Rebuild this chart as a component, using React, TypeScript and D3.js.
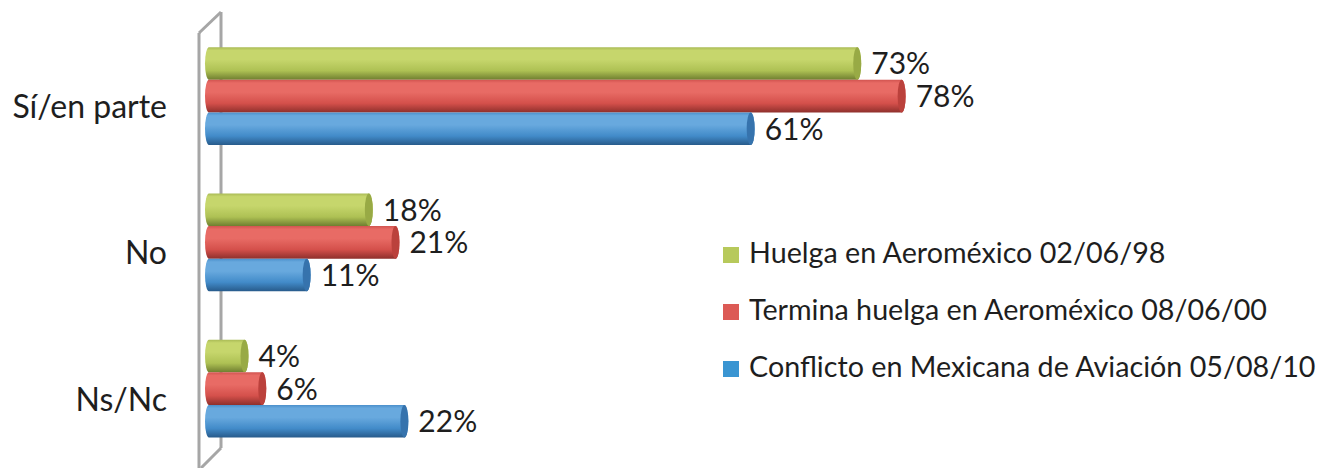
import React from "react";
import * as d3 from "d3";

const categories = ["Sí/en parte", "No", "Ns/Nc"];
const seriesNames = [
  "Huelga en Aeroméxico 02/06/98",
  "Termina huelga en Aeroméxico 08/06/00",
  "Conflicto en Mexicana de Aviación 05/08/10",
];
const huelga98 = [73, 18, 4];
const termina00 = [78, 21, 6];
const conflicto10 = [61, 11, 22];
const seriesValues = [huelga98, termina00, conflicto10];

const W = 1317;
const H = 468;
const FONT = "Lato, 'DejaVu Sans', sans-serif";
const TEXT = "#1e1e1e";

const palettes = [
  { edge: "#a9ba55", hi: "#c6d66c", base: "#aec154", dark: "#6f7e30", cap: "#98aa45", legend: "#b7c95b" },
  { edge: "#d25450", hi: "#e86b65", base: "#d4504b", dark: "#8f302c", cap: "#bb413c", legend: "#dc5a55" },
  { edge: "#4a8fcb", hi: "#68a9de", base: "#428bc9", dark: "#275a8a", cap: "#3673ad", legend: "#3a95d2" },
];

export default function App() {
  const x = d3.scaleLinear().domain([0, 100]).range([209, 209 + 888]);
  const y0 = d3
    .scaleBand<string>()
    .domain(categories)
    .range([23, 461.75])
    .paddingInner(0.33)
    .paddingOuter(0.165);
  const y1 = d3
    .scaleBand<string>()
    .domain(seriesNames)
    .range([0, y0.bandwidth()]);
  const rx = 4;

  const barPath = (x0: number, x1: number, top: number, h: number) => {
    const ry = h / 2;
    return (
      `M${x0},${top} L${x1},${top} A${rx},${ry} 0 0 1 ${x1},${top + h} ` +
      `L${x0},${top + h} A${rx},${ry} 0 0 1 ${x0},${top} Z`
    );
  };

  return (
    <svg
      width={W}
      height={H}
      style={{ position: "absolute", left: 0, top: 0, background: "#fff" }}
    >
      <defs>
        {palettes.map((p, i) => (
          <linearGradient key={i} id={`cyl${i}`} x1="0" y1="0" x2="0" y2="1">
            <stop offset="0" stopColor={p.edge} />
            <stop offset="0.1" stopColor={p.hi} />
            <stop offset="0.38" stopColor={p.hi} />
            <stop offset="0.72" stopColor={p.base} />
            <stop offset="1" stopColor={p.dark} />
          </linearGradient>
        ))}
      </defs>

      {/* wall */}
      <g stroke="#a6a6a6" strokeWidth={3} fill="none">
        <line x1={221} y1={12} x2={221} y2={448} />
        <line x1={199} y1={33} x2={199} y2={468} />
        <line x1={199} y1={33} x2={221} y2={12} />
        <line x1={221} y1={448} x2={201} y2={468} />
      </g>

      {/* bars */}
      {categories.map((c, ci) => (
        <g key={c}>
          {seriesNames.map((s, si) => {
            const v = seriesValues[si][ci];
            const top = (y0(c) as number) + (y1(s) as number);
            const h = y1.bandwidth();
            const x0 = x(0);
            const x1 = x(v);
            return (
              <g key={s}>
                <path d={barPath(x0, x1, top, h)} fill={`url(#cyl${si})`} />
                <ellipse
                  cx={x1}
                  cy={top + h / 2}
                  rx={rx}
                  ry={h / 2}
                  fill={palettes[si].cap}
                />
                <text
                  x={x1 + 14}
                  y={top + h / 2 + 11}
                  fontFamily={FONT}
                  fontSize={30}
                  fill={TEXT}
                >
                  {`${v}%`}
                </text>
              </g>
            );
          })}
        </g>
      ))}

      {/* category labels */}
      {categories.map((c) => (
        <text
          key={c}
          x={167}
          y={(y0(c) as number) + y0.bandwidth() / 2 + 22}
          textAnchor="end"
          fontFamily={FONT}
          fontSize={32}
          fill={TEXT}
        >
          {c}
        </text>
      ))}

      {/* legend */}
      {seriesNames.map((s, i) => (
        <g key={s} transform={`translate(723, ${247 + i * 57})`}>
          <rect x={0} y={0} width={16} height={16} fill={palettes[i].legend} />
          <text x={26} y={16} fontFamily={FONT} fontSize={28.7} fill={TEXT}>
            {s}
          </text>
        </g>
      ))}
    </svg>
  );
}
